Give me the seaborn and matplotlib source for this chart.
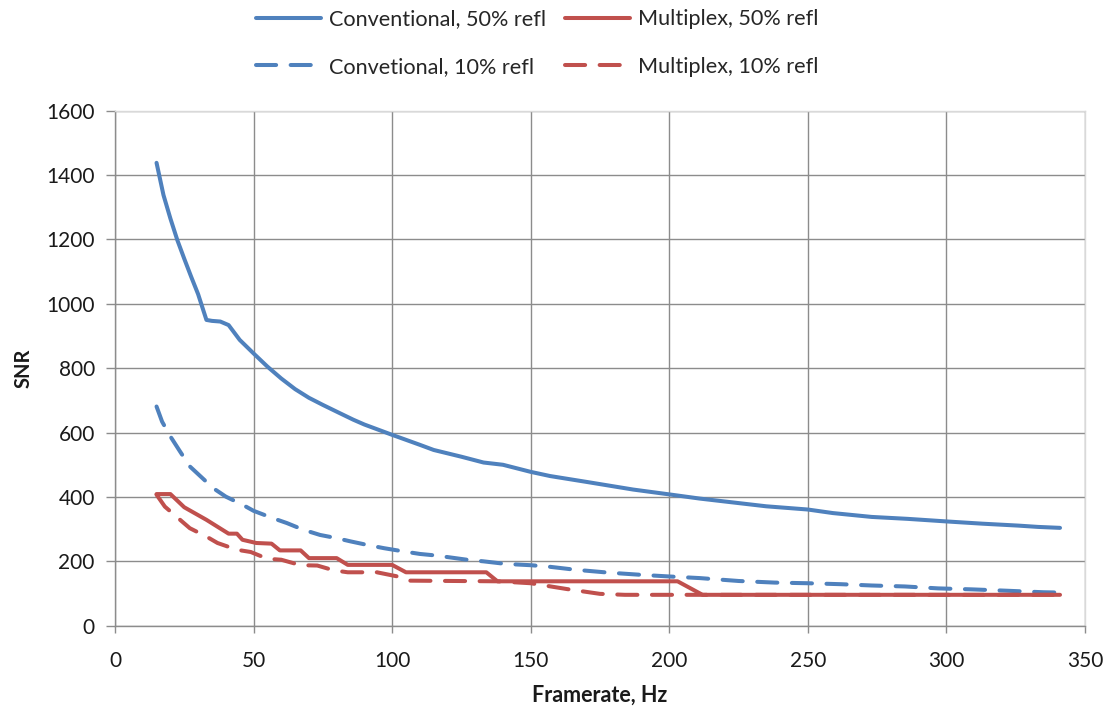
import numpy as np
import pandas as pd

import matplotlib
matplotlib.use("Agg")
import matplotlib.pyplot as plt

import seaborn as sns

# Conventional, 50% refl
conv50_x = [15, 17.5, 20, 22.5, 25, 27.5, 30, 33, 35, 38, 41, 45, 50, 55, 60, 65,
            70, 75, 80, 86, 90, 100, 110, 115, 125, 133, 140, 150, 157, 170, 187,
            200, 211, 222, 235, 250, 259, 273, 286, 300, 313, 326, 333, 341]
conv50_y = [1438, 1338, 1265, 1198, 1140, 1084, 1030, 950, 947, 945, 934, 888, 846,
            805, 768, 735, 708, 686, 665, 640, 625, 593, 562, 546, 525, 507, 500,
            478, 465, 447, 423, 408, 395, 384, 371, 361, 350, 338, 332, 324, 317,
            311, 307, 304]

# Convetional, 10% refl
conv10_x = [15, 17, 20, 23.5, 27, 31, 35.5, 40, 46, 50, 57, 62, 68, 74, 80, 85, 91,
            97, 104, 110, 116, 127, 133, 141, 150, 156, 166, 178, 190, 200, 211,
            225, 238, 250, 262, 273, 285, 297, 309, 321, 335, 341]
conv10_y = [681, 634, 588, 541, 495, 463, 427, 401, 376, 357, 334, 319, 298, 282,
            272, 262, 251, 241, 231, 223, 218, 205, 200, 192, 188, 184, 174, 165,
            158, 153, 148, 139, 134, 132, 129, 125, 122, 116, 113, 109, 104, 103]

# Multiplex, 50% refl
mult50_x = [15, 20, 25, 33, 41, 44, 46, 51, 56.5, 59.5, 67, 70, 80, 84, 100, 105,
            134, 138, 203, 212, 341]
mult50_y = [409, 409, 368, 329, 286, 286, 267, 257, 255, 234, 234, 210, 210, 189,
            189, 166, 166, 138, 138, 96, 96]

# Multiplex, 10% refl
mult10_x = [15, 18, 23.5, 27, 33, 37, 44, 49, 55, 60, 67, 73, 79, 84, 94.5, 102,
            106.5, 138, 150, 163, 175, 184, 203, 341]
mult10_y = [407, 370, 329, 303, 277, 257, 236, 229, 208, 205, 188, 187, 172, 166,
            166, 153, 140, 138, 132, 114, 99, 96, 96, 96]

labels = ["Conventional, 50% refl", "Convetional, 10% refl",
          "Multiplex, 50% refl", "Multiplex, 10% refl"]

blue = "#4F81BD"
red = "#C0504D"
grid_grey = "#8C8C8C"
text_col = "#1a1a1a"

sns.set_theme(style="white")
plt.rcParams["font.family"] = ["Lato", "DejaVu Sans"]

fig = plt.figure(figsize=(11.13, 7.10), dpi=100)
ax = fig.add_axes([0.1033, 0.1187, 0.8715, 0.7254])

series = [
    (conv50_x, conv50_y, blue, "-"),
    (conv10_x, conv10_y, blue, "--"),
    (mult50_x, mult50_y, red, "-"),
    (mult10_x, mult10_y, red, "--"),
]

handles = []
for xs, ys, col, ls in series:
    df = pd.DataFrame({"x": xs, "y": ys})
    sns.lineplot(data=df, x="x", y="y", sort=False, color=col, linewidth=2.9,
                 ax=ax)
    line = ax.get_lines()[-1]
    if ls == "--":
        line.set_dashes((5.0, 3.6))
        line.set_dash_capstyle("round")
    line.set_solid_capstyle("round")
    handles.append(line)

ax.set_xlim(0, 350)
ax.set_ylim(0, 1600)
ax.set_xticks(np.arange(0, 351, 50))
ax.set_yticks(np.arange(0, 1601, 200))

ax.grid(True, color=grid_grey, linewidth=1.0)
ax.set_axisbelow(True)

for side in ["left", "bottom"]:
    ax.spines[side].set_color(grid_grey)
    ax.spines[side].set_linewidth(1.0)
for side in ["top", "right"]:
    ax.spines[side].set_color("#D9D9D9")
    ax.spines[side].set_linewidth(1.0)

ax.tick_params(axis="both", which="major", direction="out", width=1.0,
               color=grid_grey, labelsize=15, labelcolor=text_col)
ax.tick_params(axis="x", length=5, pad=13, bottom=True)
ax.tick_params(axis="y", length=6.5, pad=8, left=True)

ax.set_xlabel("Framerate, Hz", fontsize=15.5, fontweight="bold", labelpad=10,
              color=text_col)
ax.set_ylabel("SNR", fontsize=14.5, fontweight="bold", labelpad=9,
              color=text_col)

fig.legend(handles=handles, labels=labels, ncol=2, loc="center",
           bbox_to_anchor=(537 / 1113, 1 - 43 / 710),
           bbox_transform=fig.transFigure, frameon=False, fontsize=15.6,
           handlelength=3.0, handletextpad=0.37, columnspacing=0.88,
           labelspacing=1.28, borderpad=0.0)

fig.savefig("out.png", dpi=100)
